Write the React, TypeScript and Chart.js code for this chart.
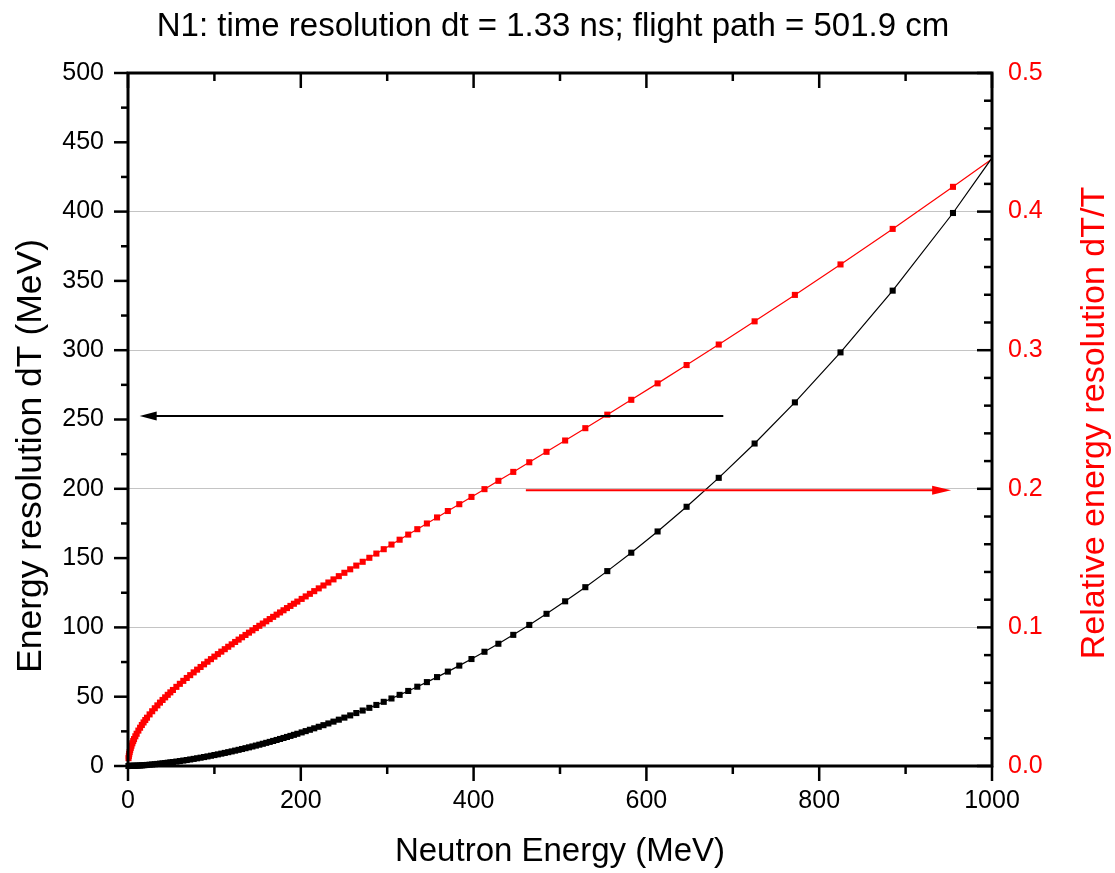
import { useEffect, useRef } from "react";
import { Chart, registerables } from "chart.js";

Chart.register(...registerables);

const TITLE = "N1: time resolution dt = 1.33 ns; flight path = 501.9 cm";
const X_TITLE = "Neutron Energy (MeV)";
const Y_TITLE = "Energy resolution dT (MeV)";
const Y1_TITLE = "Relative energy resolution dT/T";

// Neutron kinetic energy (MeV)
const neutronEnergy = [
  0.6, 1.0, 1.4, 1.9, 2.5, 3.2, 4, 5, 6, 7, 8.5, 10, 12, 14, 16, 18, 20, 22, 25,
  28, 31, 34, 37, 40, 43, 46, 49, 52, 56, 60, 64, 68, 72, 76, 80, 84, 88, 92, 96,
  100, 104, 108, 112, 116, 120, 124, 128, 132, 136, 140, 144, 148, 152, 156, 160,
  164, 168, 172, 176, 180, 184, 188, 192, 196,
  201.01, 205.67, 210.51, 215.55, 220.78, 226.23, 231.91, 237.83, 244.0, 250.45,
  257.18, 264.23, 271.61, 279.34, 287.46, 295.98, 304.95, 314.38, 324.33, 334.84,
  345.94, 357.7, 370.18, 383.43, 397.54, 412.59, 428.68, 445.92, 464.44, 484.39,
  505.95, 529.31, 554.73, 582.5, 612.95, 646.52, 683.72, 725.24, 771.86, 824.66,
  885.04, 954.85, 1036.64,
];

// Energy resolution dT (MeV), left axis
const energyResolution = [
  0.0034, 0.0073, 0.0121, 0.0192, 0.0289, 0.0419, 0.0586, 0.082, 0.1078, 0.136,
  0.1822, 0.2327, 0.3064, 0.3867, 0.4733, 0.5656, 0.6635, 0.767, 0.931, 1.106,
  1.292, 1.487, 1.692, 1.906, 2.13, 2.362, 2.603, 2.852, 3.198, 3.557, 3.931,
  4.318, 4.719, 5.134, 5.562, 6.002, 6.456, 6.922, 7.401, 7.892, 8.395, 8.911,
  9.439, 9.98, 10.532, 11.096, 11.672, 12.26, 12.86, 13.471, 14.094, 14.729,
  15.376, 16.034, 16.704, 17.385, 18.078, 18.782, 19.498, 20.226, 20.964, 21.715,
  22.476, 23.25,
  24.23, 25.17, 26.15, 27.19, 28.3, 29.46, 30.7, 32.02, 33.42, 34.91, 36.5, 38.2,
  40.02, 41.96, 44.05, 46.3, 48.72, 51.33, 54.15, 57.21, 60.53, 64.15, 68.1,
  72.43, 77.18, 82.42, 88.2, 94.62, 101.78, 109.8, 118.82, 129.01, 140.61, 153.9,
  169.22, 187.03, 207.91, 232.67, 262.35, 298.43, 342.97, 398.99, 471.02,
];

// Relative energy resolution dT/T, right axis
const relativeResolution = [
  0.00566, 0.00731, 0.00865, 0.01008, 0.01157, 0.0131, 0.01465, 0.01639, 0.01797,
  0.01943, 0.02143, 0.02327, 0.02554, 0.02762, 0.02958, 0.03142, 0.03318, 0.03485,
  0.03724, 0.0395, 0.04166, 0.04373, 0.04573, 0.04766, 0.04953, 0.05135, 0.05312,
  0.05485, 0.0571, 0.05929, 0.06142, 0.06351, 0.06555, 0.06755, 0.06952, 0.07145,
  0.07336, 0.07524, 0.07709, 0.07892, 0.08073, 0.08251, 0.08428, 0.08603, 0.08777,
  0.08948, 0.09119, 0.09288, 0.09456, 0.09622, 0.09788, 0.09952, 0.10116, 0.10278,
  0.1044, 0.10601, 0.10761, 0.1092, 0.11079, 0.11236, 0.11394, 0.1155, 0.11707,
  0.11862,
  0.12056, 0.12236, 0.12423, 0.12616, 0.12816, 0.13024, 0.13239, 0.13464, 0.13697,
  0.1394, 0.14193, 0.14458, 0.14734, 0.15022, 0.15326, 0.15643, 0.15977, 0.16327,
  0.16696, 0.17086, 0.17498, 0.17934, 0.18397, 0.18889, 0.19414, 0.19975, 0.20575,
  0.2122, 0.21915, 0.22668, 0.23484, 0.24374, 0.25348, 0.26421, 0.27607, 0.28928,
  0.30409, 0.32082, 0.3399, 0.36188, 0.38752, 0.41786, 0.45437,
];

// Annotation arrows pointing each curve to its axis
const leftArrow = { y: 252.5, xFrom: 689, xTo: 13.5 };
const rightArrow = { y: 0.199, xFrom: 460.5, xTo: 952.7 };

const FONT = '"Liberation Sans", Arial, Helvetica, sans-serif';
const RED = "#ff0000";

function drawArrow(
  ctx: CanvasRenderingContext2D,
  x1: number,
  y: number,
  x2: number,
  color: string,
  headLen: number,
  headHalf: number
) {
  const dir = Math.sign(x2 - x1);
  ctx.save();
  ctx.strokeStyle = color;
  ctx.fillStyle = color;
  ctx.lineWidth = 2;
  ctx.beginPath();
  ctx.moveTo(x1, y);
  ctx.lineTo(x2 - dir * headLen * 0.8, y);
  ctx.stroke();
  ctx.beginPath();
  ctx.moveTo(x2, y);
  ctx.lineTo(x2 - dir * headLen, y - headHalf);
  ctx.lineTo(x2 - dir * headLen, y + headHalf);
  ctx.closePath();
  ctx.fill();
  ctx.restore();
}

function line(ctx: CanvasRenderingContext2D, x1: number, y1: number, x2: number, y2: number) {
  ctx.beginPath();
  ctx.moveTo(x1, y1);
  ctx.lineTo(x2, y2);
  ctx.stroke();
}

const framePlugin = {
  id: "originFrame",
  afterDatasetsDraw(chart: any) {
    const { ctx, chartArea: a, scales } = chart;
    const x = scales.x;
    const y = scales.y;
    const y1 = scales.y1;

    drawArrow(
      ctx,
      x.getPixelForValue(leftArrow.xFrom),
      y.getPixelForValue(leftArrow.y),
      x.getPixelForValue(leftArrow.xTo),
      "#000",
      17,
      4.5
    );
    drawArrow(
      ctx,
      x.getPixelForValue(rightArrow.xFrom),
      y1.getPixelForValue(rightArrow.y),
      x.getPixelForValue(rightArrow.xTo),
      RED,
      19,
      4.5
    );

    ctx.save();
    ctx.strokeStyle = "#000";
    ctx.lineCap = "butt";
    ctx.lineWidth = 2.5;
    // bottom (outward) and top (inward) ticks
    for (let v = 0; v <= 1000; v += 100) {
      const px = x.getPixelForValue(v);
      const len = v % 200 === 0 ? 15 : 8;
      line(ctx, px, a.bottom, px, a.bottom + len);
      line(ctx, px, a.top, px, a.top + len);
    }
    // left ticks (outward)
    for (let v = 0; v <= 500; v += 25) {
      const py = y.getPixelForValue(v);
      const len = v % 50 === 0 ? 14 : 7;
      line(ctx, a.left - len, py, a.left, py);
    }
    // right ticks (inward)
    for (let i = 0; i <= 25; i++) {
      const py = y1.getPixelForValue(i * 0.02);
      const len = i % 5 === 0 ? 15 : 8;
      line(ctx, a.right - len, py, a.right, py);
    }
    ctx.lineWidth = 3;
    ctx.strokeRect(a.left, a.top, a.right - a.left, a.bottom - a.top);
    ctx.restore();
  },
  afterDraw(chart: any) {
    const { ctx } = chart;
    ctx.save();
    ctx.textAlign = "center";
    ctx.textBaseline = "middle";
    ctx.fillStyle = "#000";
    ctx.font = `33px ${FONT}`;
    ctx.fillText(TITLE, 553, 27);
    ctx.fillText(X_TITLE, 560, 852);

    ctx.save();
    ctx.translate(31, 456);
    ctx.rotate(-Math.PI / 2);
    ctx.font = `35.5px ${FONT}`;
    ctx.fillText(Y_TITLE, 0, 0);
    ctx.restore();

    ctx.save();
    ctx.translate(1095, 423);
    ctx.rotate(-Math.PI / 2);
    ctx.fillStyle = RED;
    ctx.font = `34px ${FONT}`;
    ctx.fillText(Y1_TITLE, 0, 0);
    ctx.restore();
    ctx.restore();
  },
};

export default function App() {
  const canvasRef = useRef<HTMLCanvasElement | null>(null);

  useEffect(() => {
    const canvas = canvasRef.current;
    if (!canvas) return;

    const dtPoints = neutronEnergy.map((e, i) => ({ x: e, y: energyResolution[i] }));
    const relPoints = neutronEnergy.map((e, i) => ({ x: e, y: relativeResolution[i] }));
    const clip = { left: 6, top: 6, right: 0, bottom: 6 };

    const chart = new Chart(canvas, {
      type: "scatter",
      data: {
        datasets: [
          {
            label: "dT",
            data: dtPoints,
            yAxisID: "y",
            showLine: true,
            borderColor: "#000",
            backgroundColor: "#000",
            borderWidth: 1.2,
            pointStyle: "rect",
            pointRadius: 4.3,
            pointBorderWidth: 0,
            pointBackgroundColor: "#000",
            clip,
          } as any,
          {
            label: "dT/T",
            data: relPoints,
            yAxisID: "y1",
            showLine: true,
            borderColor: RED,
            backgroundColor: RED,
            borderWidth: 1.2,
            pointStyle: "rect",
            pointRadius: 4.3,
            pointBorderWidth: 0,
            pointBackgroundColor: RED,
            clip,
          } as any,
        ],
      },
      options: {
        animation: false,
        responsive: false,
        devicePixelRatio: 1,
        events: [],
        layout: { padding: { left: 0, right: 0, top: 73, bottom: 0 } },
        plugins: {
          legend: { display: false },
          title: { display: false },
          tooltip: { enabled: false },
        },
        scales: {
          x: {
            type: "linear",
            position: "bottom",
            min: 0,
            max: 1000,
            grid: { display: false, drawTicks: false },
            border: { display: false },
            ticks: {
              stepSize: 200,
              padding: 20,
              maxRotation: 0,
              autoSkip: false,
              color: "#000",
              font: { family: FONT, size: 25 },
              callback: (v: any) => String(Math.round(Number(v))),
            },
            afterFit: (s: any) => {
              s.height = 107;
            },
          },
          y: {
            type: "linear",
            position: "left",
            min: 0,
            max: 500,
            grid: { display: false, drawTicks: false },
            border: { display: false },
            ticks: {
              stepSize: 50,
              padding: 24,
              autoSkip: false,
              color: "#000",
              font: { family: FONT, size: 25 },
              callback: (v: any) => String(Math.round(Number(v))),
            },
            afterFit: (s: any) => {
              s.width = 128;
            },
          },
          y1: {
            type: "linear",
            position: "right",
            min: 0,
            max: 0.5,
            grid: {
              display: true,
              drawOnChartArea: true,
              drawTicks: false,
              lineWidth: 1,
              color: (c: any) => {
                const v = c.tick ? c.tick.value : 0;
                return v > 0.05 && v < 0.45 ? "#c4c4c4" : "rgba(0,0,0,0)";
              },
            },
            border: { display: false },
            ticks: {
              stepSize: 0.1,
              padding: 16,
              autoSkip: false,
              color: RED,
              font: { family: FONT, size: 25 },
              callback: (v: any) => Number(v).toFixed(1),
            },
            afterFit: (s: any) => {
              s.width = 123;
            },
          },
        },
      },
      plugins: [framePlugin],
    });

    return () => chart.destroy();
  }, []);

  return (
    <div style={{ position: "fixed", left: 0, top: 0, width: 1115, height: 873, background: "#fff" }}>
      <canvas ref={canvasRef} width={1115} height={873} style={{ display: "block" }} />
    </div>
  );
}
